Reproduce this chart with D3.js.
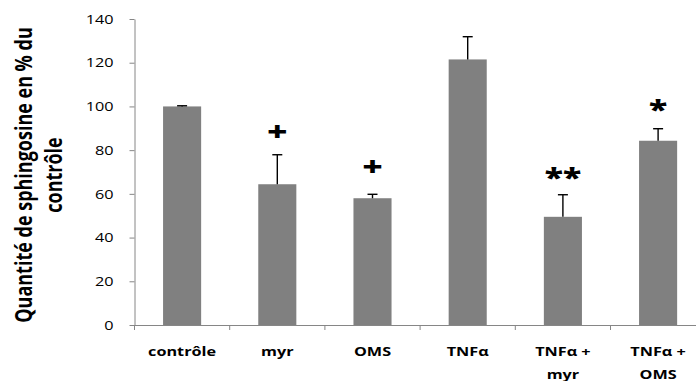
<!DOCTYPE html>
<html><head><meta charset="utf-8">
<script src="https://cdn.jsdelivr.net/npm/d3@7"></script>
<style>
html,body{margin:0;padding:0;background:#fff;overflow:hidden}
text{font-family:"Open Sans",sans-serif;fill:#000}
</style></head>
<body><svg id="c" width="696" height="381"></svg>
<script>
const categories = ["contrôle", "myr", "OMS", "TNFα", "TNFα +\nmyr", "TNFα +\nOMS"];
const values = [100, 64.4, 58.0, 121.5, 49.5, 84.3];
const errors = [0.3, 13.5, 1.8, 10.4, 10.1, 5.5];
const marks = ["", "+", "+", "", "**", "*"];
const markLevels = [null, 88.4, 72.4, null, 69.5, 100.6];
const yTicks = [0, 20, 40, 60, 80, 100, 120, 140];
const yTitle = ["Quantité de sphingosine en % du", "contrôle"];

const SX = 1.3; // horizontal stretch of the original image
const svg = d3.select("#c");
const x0 = 134.5, step = 95.2;
const x = d3.scaleBand().domain(categories).range([x0, x0 + step * categories.length]).padding(0);
const y = d3.scaleLinear().domain([0, 140]).range([325, 19]);
const bw = x.bandwidth() * 0.4;

// bars
svg.append("g").selectAll("rect").data(categories).join("rect")
  .attr("x", (d) => x(d) + x.bandwidth() / 2 - bw / 2)
  .attr("y", (d, i) => y(values[i]))
  .attr("width", bw)
  .attr("height", (d, i) => y(0) - y(values[i]))
  .attr("fill", "#808080");

// error bars
const eg = svg.append("g").attr("stroke", "#000").attr("stroke-width", 1.4);
categories.forEach((c, i) => {
  const cx = x(c) + x.bandwidth() / 2;
  eg.append("line").attr("x1", cx).attr("x2", cx).attr("y1", y(values[i])).attr("y2", y(values[i] + errors[i]));
  eg.append("line").attr("x1", cx - 5).attr("x2", cx + 5).attr("y1", y(values[i] + errors[i])).attr("y2", y(values[i] + errors[i]));
});

// y axis
const ya = svg.append("g").attr("transform", `translate(${x0},0)`)
  .call(d3.axisLeft(y).tickValues(yTicks).tickSize(5).tickSizeOuter(0));
ya.select(".domain").attr("stroke", "#868686");
ya.selectAll(".tick line").attr("stroke", "#868686");
ya.selectAll(".tick text").attr("x", null)
  .attr("transform", `translate(-21,0) scale(${SX},1)`)
  .attr("dy", "0.34em")
  .style("font-size", "12.5px").style("font-family", "Open Sans");

// x axis
const xa = svg.append("g").attr("transform", `translate(0,${y(0)})`)
  .call(d3.axisBottom(x).tickSize(0).tickSizeOuter(0).tickFormat(""));
xa.select(".domain").attr("stroke", "#868686");
xa.selectAll(".tick").remove();
xa.selectAll("line.sep").data(categories).join("line").attr("class", "sep")
  .attr("x1", (d) => x(d)).attr("x2", (d) => x(d)).attr("y1", 0).attr("y2", 5)
  .attr("stroke", "#868686");
const xl = svg.append("g").selectAll("text").data(categories).join("text")
  .attr("transform", (d) => `translate(${x(d) + x.bandwidth() / 2},356) scale(${SX},1)`)
  .attr("text-anchor", "middle")
  .style("font-size", "12.5px").style("font-weight", "bold");
xl.each(function (d) {
  const lines = d.split("\n");
  const t = d3.select(this);
  lines.forEach((l, k) => t.append("tspan").attr("x", 0).attr("y", k * 23).text(l));
});

// significance marks
svg.append("g").selectAll("text").data(categories).join("text")
  .filter((d, i) => marks[i] !== "")
  .attr("transform", (d) => {
    const i = categories.indexOf(d);
    const off = marks[i].startsWith("*") ? 14 : 9.5;
    return `translate(${x(d) + x.bandwidth() / 2},${y(markLevels[i]) + off}) scale(${SX},1)`;
  })
  .attr("text-anchor", "middle")
  .style("font-size", (d) => marks[categories.indexOf(d)].startsWith("*") ? "26px" : "27px")
  .style("font-weight", "800")
  .text((d) => marks[categories.indexOf(d)]);

// y title
const yt = svg.append("text")
  .attr("transform", `translate(0,175) scale(${SX},1) rotate(-90)`)
  .attr("text-anchor", "middle")
  .style("font-size", "18px").style("font-weight", "bold");
yTitle.forEach((l, k) => yt.append("tspan").attr("x", 0).attr("y", 24.4 + k * 23.1).text(l));
</script></body></html>
